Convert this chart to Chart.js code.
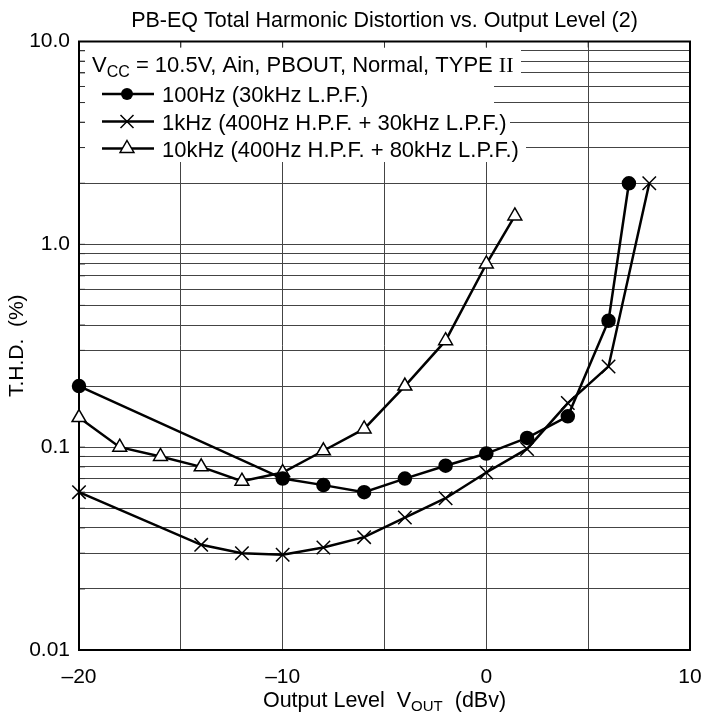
<!DOCTYPE html>
<html>
<head>
<meta charset="utf-8">
<script src="https://cdn.jsdelivr.net/npm/chart.js@4"></script>
<style>
  html, body { margin: 0; padding: 0; background: #fff; }
  canvas { display: block; }
</style>
</head>
<body>
<canvas id="thdChart" width="704" height="718"></canvas>
<script>
// data
const x100 = [-20, -10, -8, -6, -4, -2, 0, 2, 4, 6, 7];
const thd100 = [0.2, 0.07, 0.065, 0.06, 0.07, 0.081, 0.093, 0.111, 0.142, 0.42, 2.0];

const x1k = [-20, -14, -12, -10, -8, -6, -4, -2, 0, 2, 4, 6, 8];
const thd1k = [0.06, 0.033, 0.03, 0.0295, 0.032, 0.036, 0.045, 0.056, 0.075, 0.098, 0.165, 0.25, 2.0];

const x10k = [-20, -18, -16, -14, -12, -10, -8, -6, -4, -2, 0, 1.4];
const thd10k = [0.14, 0.1, 0.09, 0.08, 0.068, 0.075, 0.096, 0.123, 0.2, 0.335, 0.8, 1.38];

const seriesNames = [
  "100Hz (30kHz L.P.F.)",
  "1kHz (400Hz H.P.F. + 30kHz L.P.F.)",
  "10kHz (400Hz H.P.F. + 80kHz L.P.F.)"
];

const yLabelValues = [0.01, 0.1, 1, 10];
const yLabelTexts = ["0.01", "0.1", "1.0", "10.0"];
const xLabelValues = [-20, -10, 0, 10];
const xLabelTexts = ["\u201320", "\u201310", "0", "10"];

// grid lines at 1..9 of every decade
const yGrid = [];
[-2, -1, 0].forEach(e => {
  for (let m = 1; m <= 9; m++) yGrid.push(parseFloat((m * Math.pow(10, e)).toPrecision(3)));
});
yGrid.push(10);

const FONT = "'Liberation Sans', Arial, Helvetica, sans-serif";
const pts = (xs, ys) => xs.map((x, i) => ({ x: x, y: ys[i] }));

function drawMarker(ctx, kind, x, y) {
  ctx.save();
  ctx.strokeStyle = "#000";
  ctx.lineWidth = 1.5;
  if (kind === "circle") {
    ctx.fillStyle = "#000";
    ctx.beginPath();
    ctx.arc(x, y, 6, 0, Math.PI * 2);
    ctx.fill();
  } else if (kind === "cross") {
    const r = 6.5;
    ctx.beginPath();
    ctx.moveTo(x - r, y - r); ctx.lineTo(x + r, y + r);
    ctx.moveTo(x - r, y + r); ctx.lineTo(x + r, y - r);
    ctx.stroke();
  } else {
    const r = 8;
    ctx.fillStyle = "#fff";
    ctx.beginPath();
    ctx.moveTo(x, y - r);
    ctx.lineTo(x + r * 0.866, y + r / 2);
    ctx.lineTo(x - r * 0.866, y + r / 2);
    ctx.closePath();
    ctx.fill();
    ctx.stroke();
  }
  ctx.restore();
}

// draws text pieces [text, font, dy] one after another
function drawPieces(ctx, pieces, x, y) {
  pieces.forEach(p => {
    ctx.font = p[1];
    ctx.fillText(p[0], x, y + (p[2] || 0));
    x += ctx.measureText(p[0]).width;
  });
}
function piecesWidth(ctx, pieces) {
  let w = 0;
  pieces.forEach(p => { ctx.font = p[1]; w += ctx.measureText(p[0]).width; });
  return w;
}

const frame = {
  id: "frame",
  beforeDatasetsDraw(chart) {
    const { ctx, chartArea: a, scales: { x, y } } = chart;
    ctx.save();
    // white legend area over the grid
    ctx.fillStyle = "#fff";
    const rows = [[a.top + 6, 80, 521], [80, 108, 494], [108, 135, 510], [135, 162, 526]];
    rows.forEach(r => ctx.fillRect(a.left + 6, r[0], r[2] - a.left - 6, r[1] - r[0]));
    // inner ticks on left and top border
    ctx.strokeStyle = "#333";
    ctx.lineWidth = 1;
    ctx.beginPath();
    yGrid.forEach(v => {
      const py = y.getPixelForValue(v);
      ctx.moveTo(a.left, py); ctx.lineTo(a.left + 6, py);
    });
    for (let v = -20; v <= 10; v += 5) {
      const px = x.getPixelForValue(v);
      ctx.moveTo(px, a.top); ctx.lineTo(px, a.top + 6);
    }
    ctx.stroke();
    ctx.strokeStyle = "#000";
    ctx.lineWidth = 2;
    ctx.strokeRect(a.left, a.top, a.right - a.left, a.bottom - a.top);
    ctx.restore();
  },
  afterDraw(chart) {
    const { ctx, chartArea: a } = chart;
    ctx.save();
    ctx.fillStyle = "#000";
    ctx.textBaseline = "alphabetic";
    const f21 = "21.5px " + FONT;
    const f15 = "15px " + FONT;
    const f22 = "22px " + FONT;
    const f16 = "16px " + FONT;

    // title
    ctx.font = f21;
    ctx.textAlign = "center";
    ctx.fillText("PB-EQ Total Harmonic Distortion vs. Output Level (2)", (a.left + a.right) / 2, 27);

    // x axis title with subscript
    ctx.textAlign = "left";
    const xt = [["Output Level  V", f21], ["OUT", f15, 4], ["  (dBv)", f21]];
    drawPieces(ctx, xt, (a.left + a.right) / 2 - piecesWidth(ctx, xt) / 2, 707);

    // legend
    drawPieces(ctx, [["V", f22], ["CC", f16, 5], [" = 10.5V, Ain, PBOUT, Normal, TYPE ", f22], ["II", "22px 'Liberation Serif', serif"]], 92, 72);
    const kinds = ["circle", "cross", "triangle"];
    const rowY = [94, 121.5, 148.5];
    kinds.forEach((k, i) => {
      ctx.strokeStyle = "#000";
      ctx.lineWidth = 2.5;
      ctx.beginPath();
      ctx.moveTo(102, rowY[i]); ctx.lineTo(154, rowY[i]);
      ctx.stroke();
      drawMarker(ctx, k, 127, rowY[i]);
      ctx.font = f22;
      ctx.fillText(seriesNames[i], 162, rowY[i] + 8);
    });
    ctx.restore();
  }
};

const common = {
  showLine: true,
  borderColor: "#000",
  borderWidth: 2.5,
  pointBorderColor: "#000",
  clip: false
};

new Chart(document.getElementById("thdChart"), {
  type: "scatter",
  data: {
    datasets: [
      Object.assign({
        label: seriesNames[0],
        data: pts(x100, thd100),
        pointStyle: "circle",
        pointRadius: 6,
        pointBackgroundColor: "#000"
      }, common),
      Object.assign({
        label: seriesNames[1],
        data: pts(x1k, thd1k),
        pointStyle: "crossRot",
        pointRadius: 9.5,
        pointBorderWidth: 1.5
      }, common),
      Object.assign({
        label: seriesNames[2],
        data: pts(x10k, thd10k),
        pointStyle: "triangle",
        pointRadius: 8,
        pointBorderWidth: 1.5,
        pointBackgroundColor: "#fff"
      }, common)
    ]
  },
  options: {
    responsive: false,
    animation: false,
    devicePixelRatio: 1,
    layout: { padding: { top: 41.5, right: 14, left: 0, bottom: 0 } },
    plugins: {
      legend: { display: false },
      tooltip: { enabled: false },
      title: { display: false }
    },
    scales: {
      x: {
        type: "linear",
        min: -20,
        max: 10,
        afterFit: s => { s.height = 68; s.paddingLeft = 0; s.paddingRight = 0; },
        grid: { color: "#444", lineWidth: 1, drawTicks: false },
        border: { display: false },
        ticks: {
          stepSize: 5,
          autoSkip: false,
          maxRotation: 0,
          padding: 15,
          color: "#000",
          font: { family: FONT, size: 21 },
          callback: v => {
            const i = xLabelValues.indexOf(v);
            return i >= 0 ? xLabelTexts[i] : "";
          }
        }
      },
      y: {
        type: "logarithmic",
        min: 0.01,
        max: 10,
        afterBuildTicks: s => { s.ticks = yGrid.map(v => ({ value: v })); },
        afterFit: s => { s.width = 79; s.paddingTop = 0; s.paddingBottom = 0; },
        grid: { color: "#444", lineWidth: 1, drawTicks: false },
        border: { display: false },
        title: {
          display: true,
          text: "T.H.D.  (%)",
          color: "#000",
          font: { family: FONT, size: 21 },
          padding: { top: 5, bottom: 0 }
        },
        ticks: {
          autoSkip: false,
          padding: 9,
          color: "#000",
          font: { family: FONT, size: 21 },
          callback: v => {
            const i = yLabelValues.indexOf(v);
            return i >= 0 ? yLabelTexts[i] : "";
          }
        }
      }
    }
  },
  plugins: [frame]
});
</script>
</body>
</html>
